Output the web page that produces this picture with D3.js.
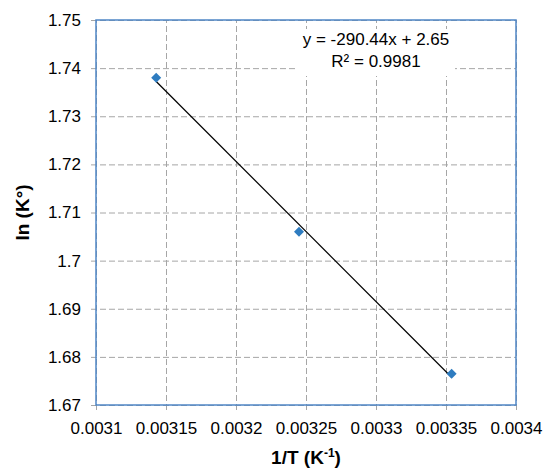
<!DOCTYPE html>
<html>
<head>
<meta charset="utf-8">
<script src="https://cdn.jsdelivr.net/npm/d3@7"></script>
<style>
  body { margin: 0; background: #fff; }
  svg { font-family: "Liberation Sans", Arial, sans-serif; }
</style>
</head>
<body>
<svg width="545" height="472"></svg>
<script>
// data
const inv_t = [0.003143, 0.003245, 0.003354];
const ln_k = [1.738, 1.706, 1.6765];
const x_ticks = [0.0031, 0.00315, 0.0032, 0.00325, 0.0033, 0.00335, 0.0034];
const y_ticks = [1.67, 1.68, 1.69, 1.7, 1.71, 1.72, 1.73, 1.74, 1.75];
const eq_label = "y = -290.44x + 2.65";
const r2_label = "R² = 0.9981";

const margin = { left: 96, right: 29, top: 20, bottom: 67 };
const width = 545, height = 472;

const svg = d3.select("svg");

const x_scale = d3.scaleLinear().domain([0.0031, 0.0034]).range([margin.left, width - margin.right]);
const y_scale = d3.scaleLinear().domain([1.67, 1.75]).range([height - margin.bottom, margin.top]);

const grid_color = "#a6a6a6";
const frame_color = "#4f86c6";

// x axis + vertical grid
const x_axis = d3.axisBottom(x_scale)
  .tickValues(x_ticks)
  .tickFormat(d => String(+d.toPrecision(6)))
  .tickSizeInner(-(height - margin.bottom - margin.top) - 5)
  .tickSizeOuter(0)
  .tickPadding(12);

const gx = svg.append("g")
  .attr("transform", `translate(0,${height - margin.bottom + 5})`)
  .call(x_axis);
gx.select(".domain").remove();
gx.selectAll(".tick line")
  .attr("stroke", grid_color)
  .attr("stroke-dasharray", "6,3");
gx.selectAll(".tick text")
  .attr("fill", "#000")
  .style("font-size", "17px");

// y axis + horizontal grid
const y_axis = d3.axisLeft(y_scale)
  .tickValues(y_ticks)
  .tickFormat(d => String(+d.toFixed(2)))
  .tickSizeInner(-(width - margin.left - margin.right) - 5)
  .tickSizeOuter(0)
  .tickPadding(10);

const gy = svg.append("g")
  .attr("transform", `translate(${margin.left - 5},0)`)
  .call(y_axis);
gy.select(".domain").remove();
gy.selectAll(".tick line")
  .attr("stroke", grid_color)
  .attr("stroke-dasharray", "6,3");
gy.selectAll(".tick text")
  .attr("fill", "#000")
  .style("font-size", "17px");

// plot area frame
svg.append("rect")
  .attr("x", margin.left)
  .attr("y", margin.top)
  .attr("width", width - margin.left - margin.right)
  .attr("height", height - margin.top - margin.bottom)
  .attr("fill", "none")
  .attr("stroke", frame_color)
  .attr("stroke-width", 1.5);

// least squares trend line
const mx = d3.mean(inv_t), my = d3.mean(ln_k);
const sxy = d3.sum(inv_t, (x, i) => (x - mx) * (ln_k[i] - my));
const sxx = d3.sum(inv_t, x => (x - mx) * (x - mx));
const slope = sxy / sxx;
const intercept = my - slope * mx;
const x_ext = d3.extent(inv_t);

svg.append("path")
  .attr("fill", "none")
  .attr("stroke", "#000")
  .attr("stroke-width", 1.2)
  .attr("d", d3.line()
    .x(d => x_scale(d))
    .y(d => y_scale(slope * d + intercept))(x_ext));

// markers
svg.selectAll(".pt")
  .data(inv_t)
  .join("path")
  .attr("class", "pt")
  .attr("d", d3.symbol(d3.symbolSquare, 50))
  .attr("transform", (d, i) => `translate(${x_scale(d)},${y_scale(ln_k[i])}) rotate(45)`)
  .attr("fill", "#2e7cc0");

// equation label with white background
const lab = svg.append("g");
lab.append("rect")
  .attr("x", 296).attr("y", 29)
  .attr("width", 159).attr("height", 47)
  .attr("fill", "#fff");
lab.append("text")
  .attr("x", 376).attr("y", 45)
  .attr("text-anchor", "middle")
  .style("font-size", "17px")
  .text(eq_label);
lab.append("text")
  .attr("x", 376).attr("y", 67)
  .attr("text-anchor", "middle")
  .style("font-size", "17px")
  .text(r2_label);

// axis titles
const x_title = svg.append("text")
  .attr("x", 306)
  .attr("y", 464)
  .attr("text-anchor", "middle")
  .style("font-size", "19px")
  .style("font-weight", "bold");
x_title.append("tspan").text("1/T (K");
x_title.append("tspan").attr("dy", -7).style("font-size", "12px").text("-1");
x_title.append("tspan").attr("dy", 7).text(")");

svg.append("text")
  .attr("transform", `translate(29,${(margin.top + height - margin.bottom) / 2}) rotate(-90)`)
  .attr("text-anchor", "middle")
  .style("font-size", "19px")
  .style("font-weight", "bold")
  .text("ln (K°)");
</script>
</body>
</html>
